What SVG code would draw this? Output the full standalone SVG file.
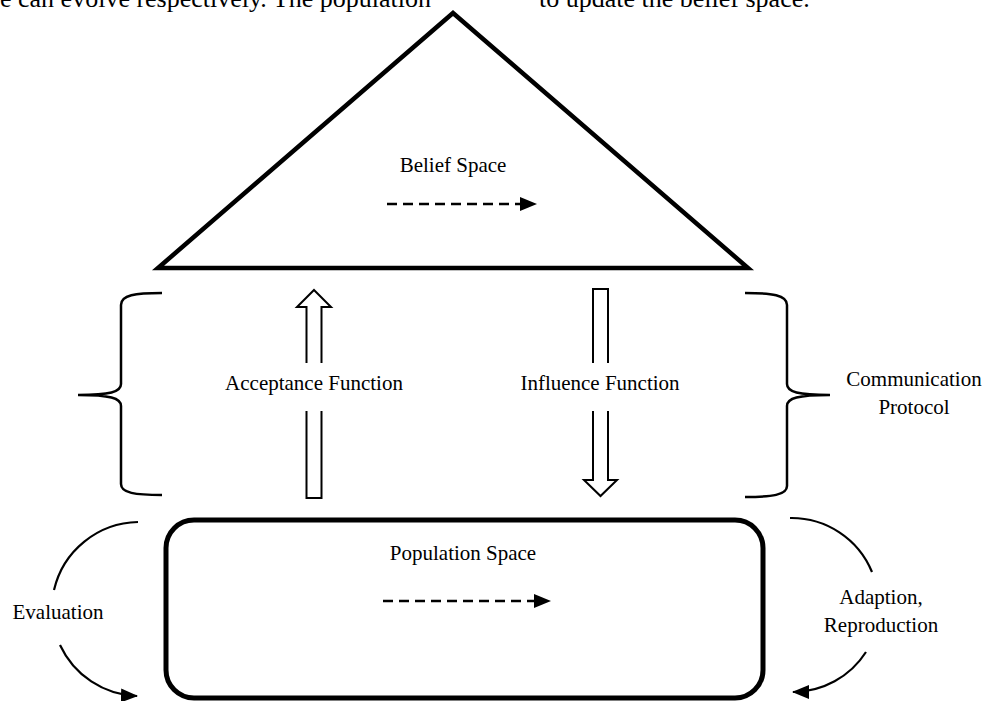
<svg xmlns="http://www.w3.org/2000/svg" width="984" height="701" viewBox="0 0 984 701">
<style>
text{font-family:"Liberation Serif","Times New Roman",serif;font-size:21px;fill:#000}
.top{font-size:26px}
.mid{text-anchor:middle}
.thick{fill:none;stroke:#000}
.brace{fill:none;stroke:#000;stroke-width:2.5}
.dash{fill:none;stroke:#000;stroke-width:2.5;stroke-dasharray:10 6}
.hollow{fill:#fff;stroke:#000;stroke-width:2}
.curve{fill:none;stroke:#000;stroke-width:2.2}
</style>
<defs>
<marker id="ah" markerUnits="userSpaceOnUse" markerWidth="18" markerHeight="16" refX="16" refY="7" orient="auto">
<path d="M0,0 L17,7 L0,14 Z" fill="#000"/>
</marker>
</defs>
<rect width="984" height="701" fill="#fff"/>
<g id="context-text">
<text class="top" x="0" y="7">e can evolve respectively. The population</text>
<text class="top" x="539" y="7">to update the belief space.</text>
</g>
<g id="belief-space">
<polygon class="thick" stroke-width="4.5" points="453,13 158,268 748,268"/>
<text class="mid" x="453" y="172">Belief Space</text>
<line class="dash" x1="387" y1="204" x2="521" y2="204"/>
<polygon points="520,197 537,204 520,211" fill="#000"/>
</g>
<g id="population-space">
<rect class="thick" stroke-width="5" x="166" y="520" width="597" height="178" rx="28"/>
<text class="mid" x="463" y="560">Population Space</text>
<line class="dash" x1="383" y1="601" x2="535" y2="601"/>
<polygon points="534,594 551,601 534,608" fill="#000"/>
</g>
<g id="communication-protocol">
<path class="brace" d="M162,293 C135,293 121,295 121,305 L121,384 C121,392 110,395 78,395 C110,395 121,398 121,406 L121,484 C121,493 135,495 162,495"/>
<path class="brace" d="M745,293 C772,293 787,295 787,305 L787,384 C787,392 798,395 830,395 C798,395 787,398 787,406 L787,486 C787,495 772,497 745,497"/>
<text class="mid" x="914" y="386">Communication</text>
<text class="mid" x="914" y="414">Protocol</text>
</g>
<g id="connectors">
<g id="acceptance-function">
<polygon class="hollow" points="314,290 331,307 321.5,307 321.5,498 306.5,498 306.5,307 297,307"/>
<rect x="215" y="363" width="198" height="48" fill="#fff"/>
<text class="mid" x="314" y="390">Acceptance Function</text>
</g>
<g id="influence-function">
<polygon class="hollow" points="593,289 608,289 608,480 617,480 600.5,496 584,480 593,480"/>
<rect x="510" y="363" width="180" height="48" fill="#fff"/>
<text class="mid" x="600" y="390">Influence Function</text>
</g>
<g id="evaluation">
<path class="curve" d="M138,522 A88,88 0 0 0 54,590"/>
<path class="curve" d="M60,645 A88,88 0 0 0 137,696" marker-end="url(#ah)"/>
<text class="mid" x="58" y="619">Evaluation</text>
</g>
<g id="adaption-reproduction">
<path class="curve" d="M790,518 A87,87 0 0 1 872,572"/>
<path class="curve" d="M866,652 A87,87 0 0 1 793,692" marker-end="url(#ah)"/>
<text class="mid" x="881" y="604">Adaption,</text>
<text class="mid" x="881" y="632">Reproduction</text>
</g>
</g>
</svg>
